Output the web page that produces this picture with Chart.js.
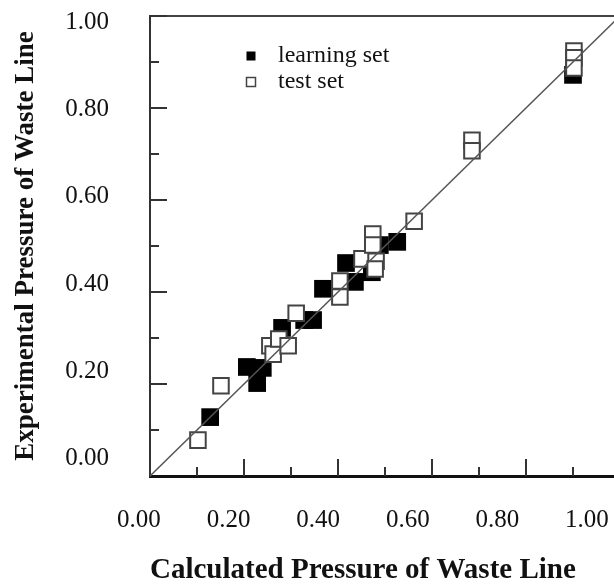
<!DOCTYPE html>
<html>
<head>
<meta charset="utf-8">
<script src="https://cdn.jsdelivr.net/npm/chart.js@4.4.1/dist/chart.umd.min.js"></script>
<style>
  html, body { margin: 0; padding: 0; background: #fff; overflow: hidden; }
  #wrap { width: 620px; height: 586px; }
</style>
</head>
<body>
<div id="wrap"><canvas id="grafik"></canvas></div>
<script>
// learning set (filled squares)
const learnX = [0.128, 0.206, 0.240, 0.228, 0.281, 0.328, 0.347, 0.368, 0.417, 0.436, 0.472, 0.489, 0.526, 0.900];
const learnY = [0.128, 0.237, 0.235, 0.202, 0.322, 0.339, 0.339, 0.407, 0.463, 0.422, 0.443, 0.502, 0.509, 0.872];

// test set (open squares)
const testX = [0.102, 0.151, 0.255, 0.262, 0.274, 0.294, 0.311, 0.404, 0.404, 0.451, 0.481, 0.479, 0.474, 0.474, 0.562, 0.685, 0.685, 0.902, 0.902, 0.902];
const testY = [0.078, 0.196, 0.283, 0.265, 0.298, 0.283, 0.354, 0.424, 0.389, 0.472, 0.467, 0.450, 0.526, 0.502, 0.554, 0.730, 0.707, 0.924, 0.909, 0.887];

// garis y = x
const fitLineX = [0, 1];
const fitLineY = [0, 1];

const tickLabels = [0, 0.2, 0.4, 0.6, 0.8, 1.0];

// label axes in the figure sit a bit off the tick marks
const xLabelMin = 0.0246, xLabelMax = 1.0737;
const yLabelMin = -0.0396, yLabelMax = 1.0145;

const serif = "'Liberation Serif', 'Times New Roman', serif";

function toPoints(xs, ys) {
  return xs.map((x, i) => ({ x: x, y: ys[i] }));
}

// fixed axis size, no extra label padding
function fixSize(w, h) {
  return function (s) {
    if (w !== null) s.width = w;
    if (h !== null) s.height = h;
    s.paddingTop = 0;
    s.paddingBottom = 0;
    s.paddingLeft = 0;
    s.paddingRight = 0;
  };
}

// tick marks pointing into the plot
const innerTicks = {
  id: 'innerTicks',
  afterDatasetsDraw(chart) {
    const ctx = chart.ctx;
    const area = chart.chartArea;
    const sx = chart.scales.x;
    const sy = chart.scales.y;
    ctx.save();
    ctx.strokeStyle = '#333';
    ctx.lineWidth = 2;
    sx.ticks.forEach(t => {
      if (t.value <= 0) return;
      const px = Math.round(sx.getPixelForValue(t.value));
      const len = Math.round(t.value * 10) % 2 === 0 ? 17 : 9;
      ctx.beginPath();
      ctx.moveTo(px, area.bottom);
      ctx.lineTo(px, area.bottom - len);
      ctx.stroke();
    });
    sy.ticks.forEach(t => {
      if (t.value <= 0) return;
      const py = Math.round(sy.getPixelForValue(t.value));
      const len = Math.round(t.value * 10) % 2 === 0 ? 17 : 9;
      ctx.beginPath();
      ctx.moveTo(area.left, py);
      ctx.lineTo(area.left + len, py);
      ctx.stroke();
    });
    ctx.restore();
  }
};

// legend inside the plot area
const legendInside = {
  id: 'legendInside',
  afterDraw(chart) {
    const ctx = chart.ctx;
    const area = chart.chartArea;
    const sets = chart.data.datasets.filter(d => d.label);
    ctx.save();
    ctx.font = '24px ' + serif;
    ctx.textBaseline = 'middle';
    sets.forEach((d, i) => {
      const cx = area.left + 101;
      const cy = area.top + 40 + i * 26;
      ctx.fillStyle = d.backgroundColor;
      ctx.fillRect(cx - 4.5, cy - 4.5, 9, 9);
      if (d.borderWidth) {
        ctx.lineWidth = 1.5;
        ctx.strokeStyle = d.borderColor;
        ctx.strokeRect(cx - 4.5, cy - 4.5, 9, 9);
      }
      ctx.fillStyle = '#111';
      ctx.fillText(d.label, cx + 27, cy);
    });
    ctx.restore();
  }
};

const ctx = document.getElementById('grafik').getContext('2d');

new Chart(ctx, {
  type: 'scatter',
  data: {
    datasets: [
      {
        label: 'learning set',
        data: toPoints(learnX, learnY),
        xAxisID: 'x', yAxisID: 'y',
        pointStyle: 'rect',
        pointRadius: 12.5,
        backgroundColor: '#000',
        borderColor: '#000',
        borderWidth: 0,
        order: 2
      },
      {
        label: 'test set',
        data: toPoints(testX, testY),
        xAxisID: 'x', yAxisID: 'y',
        pointStyle: 'rect',
        pointRadius: 11,
        backgroundColor: '#fff',
        borderColor: '#444',
        borderWidth: 2,
        order: 1
      },
      {
        type: 'line',
        data: toPoints(fitLineX, fitLineY),
        xAxisID: 'x', yAxisID: 'y',
        borderColor: '#555',
        borderWidth: 1.5,
        pointRadius: 0,
        fill: false,
        order: 0
      }
    ]
  },
  options: {
    responsive: true,
    maintainAspectRatio: false,
    animation: false,
    layout: { padding: 0, autoPadding: false },
    plugins: {
      legend: { display: false },
      tooltip: { enabled: false }
    },
    scales: {
      x: {
        type: 'linear', position: 'bottom', weight: 0,
        min: 0, max: 1,
        ticks: { display: false, stepSize: 0.1 },
        grid: { drawOnChartArea: false, drawTicks: false },
        border: { display: true, color: '#111', width: 3 },
        afterFit: fixSize(null, 0)
      },
      xLabel: {
        type: 'linear', position: 'bottom', weight: 1,
        min: xLabelMin, max: xLabelMax,
        afterBuildTicks(s) { s.ticks = tickLabels.map(v => ({ value: v })); },
        ticks: {
          callback: v => Number(v).toFixed(2),
          font: { family: serif, size: 25 },
          color: '#111',
          padding: 29,
          maxRotation: 0,
          autoSkip: false
        },
        grid: { drawOnChartArea: false, drawTicks: false },
        border: { display: false },
        title: {
          display: true,
          text: 'Calculated Pressure of Waste Line',
          align: 'start',
          color: '#111',
          padding: 0,
          font: { family: serif, size: 29, weight: 'bold', lineHeight: 1.05 }
        },
        afterFit: fixSize(null, 110)
      },
      xTop: {
        type: 'linear', position: 'top',
        min: 0, max: 1,
        ticks: { display: false },
        grid: { drawOnChartArea: false, drawTicks: false },
        border: { display: true, color: '#444', width: 2 },
        afterFit: fixSize(null, 16)
      },
      y: {
        type: 'linear', position: 'left', weight: 0,
        min: 0, max: 1,
        ticks: { display: false, stepSize: 0.1 },
        grid: { drawOnChartArea: false, drawTicks: false },
        border: { display: true, color: '#333', width: 2 },
        afterFit: fixSize(0, null)
      },
      yLabel: {
        type: 'linear', position: 'left', weight: 1,
        min: yLabelMin, max: yLabelMax,
        afterBuildTicks(s) { s.ticks = tickLabels.map(v => ({ value: v })); },
        ticks: {
          callback: v => Number(v).toFixed(2),
          font: { family: serif, size: 25 },
          color: '#111',
          padding: 41,
          autoSkip: false
        },
        grid: { drawOnChartArea: false, drawTicks: false },
        border: { display: false },
        title: {
          display: true,
          text: 'Experimental Pressure of Waste Line',
          color: '#111',
          padding: { top: 11, bottom: 0 },
          font: { family: serif, size: 27, weight: 'bold', lineHeight: 1.1 }
        },
        afterFit: fixSize(150, null)
      }
    }
  },
  plugins: [innerTicks, legendInside]
});
</script>
</body>
</html>
